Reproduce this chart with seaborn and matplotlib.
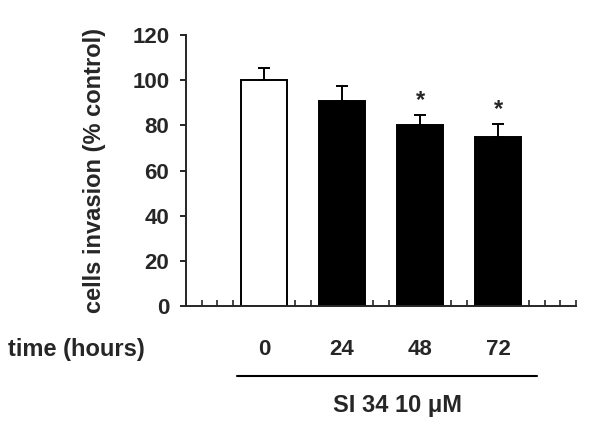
import numpy as np
import pandas as pd
import matplotlib
matplotlib.use('Agg')
import matplotlib.pyplot as plt
from matplotlib.ticker import MultipleLocator
from matplotlib.lines import Line2D
import seaborn as sns

times = ['0', '24', '48', '72']
invasion = [100, 91, 80, 75]
sem = [5.5, 6.5, 4.5, 5.5]
signif = ['', '', '*', '*']
bar_colors = ['white', 'black', 'black', 'black']

sns.set_style('ticks')
plt.rcParams['font.family'] = ['Liberation Sans', 'DejaVu Sans']
plt.rcParams['font.weight'] = 'bold'

df = pd.DataFrame({'time': times, 'invasion': invasion})

fig = plt.figure(figsize=(6, 4.43), dpi=100)
ax = fig.add_axes([0.31, 0.309, 0.65, 0.612])
ax.set_axisbelow(True)

sns.barplot(data=df, x='time', y='invasion', hue='time', palette=bar_colors,
            legend=False, width=0.6, edgecolor='black', linewidth=1.4,
            saturation=1, ax=ax, zorder=2)

xpos = np.arange(len(times))
ax.errorbar(xpos, invasion, yerr=[np.zeros(len(sem)), sem], fmt='none',
            ecolor='black', elinewidth=1.4, capsize=4, capthick=1.4, zorder=3)

for x, v, e, s in zip(xpos, invasion, sem, signif):
    if s:
        ax.text(x, v + e + 1.5, s, ha='center', va='bottom', fontsize=17,
                fontweight='bold')

ax.set_xlim(-1, 4)
ax.set_ylim(0, 120)
ax.set_yticks(range(0, 121, 20))
ax.set_xticks(xpos)
ax.set_xticklabels(times)
ax.xaxis.set_minor_locator(MultipleLocator(0.2))
ax.tick_params(axis='x', which='both', direction='in', length=4, width=1.2,
               pad=24, labelsize=16)
ax.tick_params(axis='y', direction='out', length=4, width=1.4, pad=8,
               labelsize=16)
for lab in ax.get_xticklabels() + ax.get_yticklabels():
    lab.set_fontweight('bold')

ax.set_xlabel('')
ax.set_ylabel('cells invasion (% control)', fontsize=17, fontweight='bold',
              labelpad=19)
for sp in ['top', 'right']:
    ax.spines[sp].set_visible(False)
for sp in ['left', 'bottom']:
    ax.spines[sp].set_linewidth(1.4)

fig.text(0.013, 0.196, 'time (hours)', fontsize=17, fontweight='bold',
         ha='left', va='baseline')
fig.add_artist(Line2D([0.395, 0.895], [0.151, 0.151], color='black', lw=1.5))
fig.text(0.662, 0.07, 'SI 34 10 \u03bcM', fontsize=17, fontweight='bold',
         ha='center', va='baseline')

fig.savefig('out.png', dpi=100)
